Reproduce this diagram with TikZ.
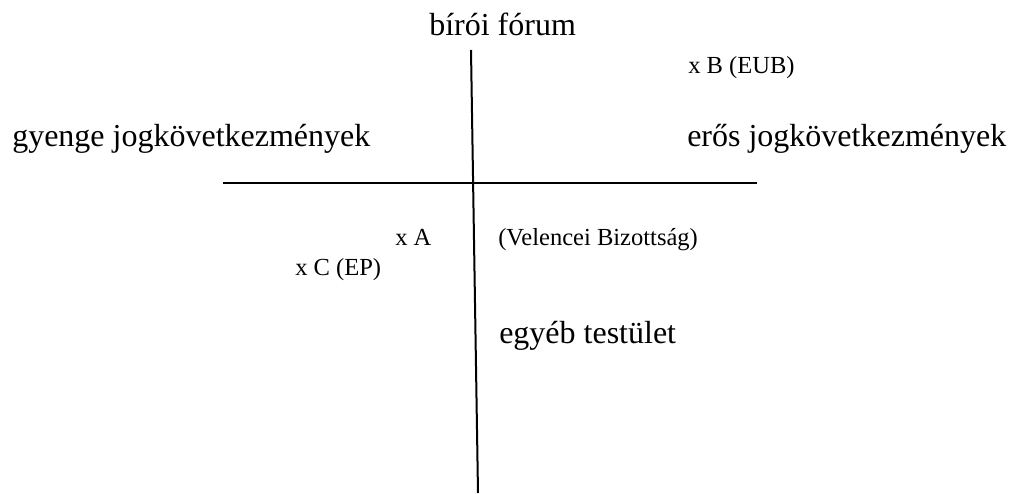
\documentclass[tikz,border=0pt]{standalone}
\usepackage{fontspec}
\setmainfont{Liberation Serif}
\begin{document}
\begin{tikzpicture}[x=0.75pt,y=-0.75pt,
  big/.style={anchor=base west,inner sep=0pt,font=\fontsize{24}{28}\selectfont},
  small/.style={anchor=base west,inner sep=0pt,font=\fontsize{18.4}{22}\selectfont},
  axis/.style={line width=1.5pt}]
\useasboundingbox (0,0) rectangle (1014,493);
\coordinate (hl) at (223,183);
\coordinate (hr) at (757,183);
\coordinate (vt) at (471,50);
\coordinate (vb) at (478,493);
\draw[axis] (hl) -- (hr);
\draw[axis] (vt) -- (vb);
\node[big] (top) at (429,35) {bírói fórum};
\node[big] (left) at (12,146) {gyenge jogkövetkezmények};
\node[big] (right) at (687,146) {erős jogkövetkezmények};
\node[big] (bottom) at (499,343) {egyéb testület};
\node[small] (B) at (688,73) {x B (EUB)};
\node[small] (A) at (395,245) {x A};
\node[small] (C) at (295,275) {x C (EP)};
\node[small] (V) at (498,245) {(Velencei Bizottság)};
\end{tikzpicture}
\end{document}
